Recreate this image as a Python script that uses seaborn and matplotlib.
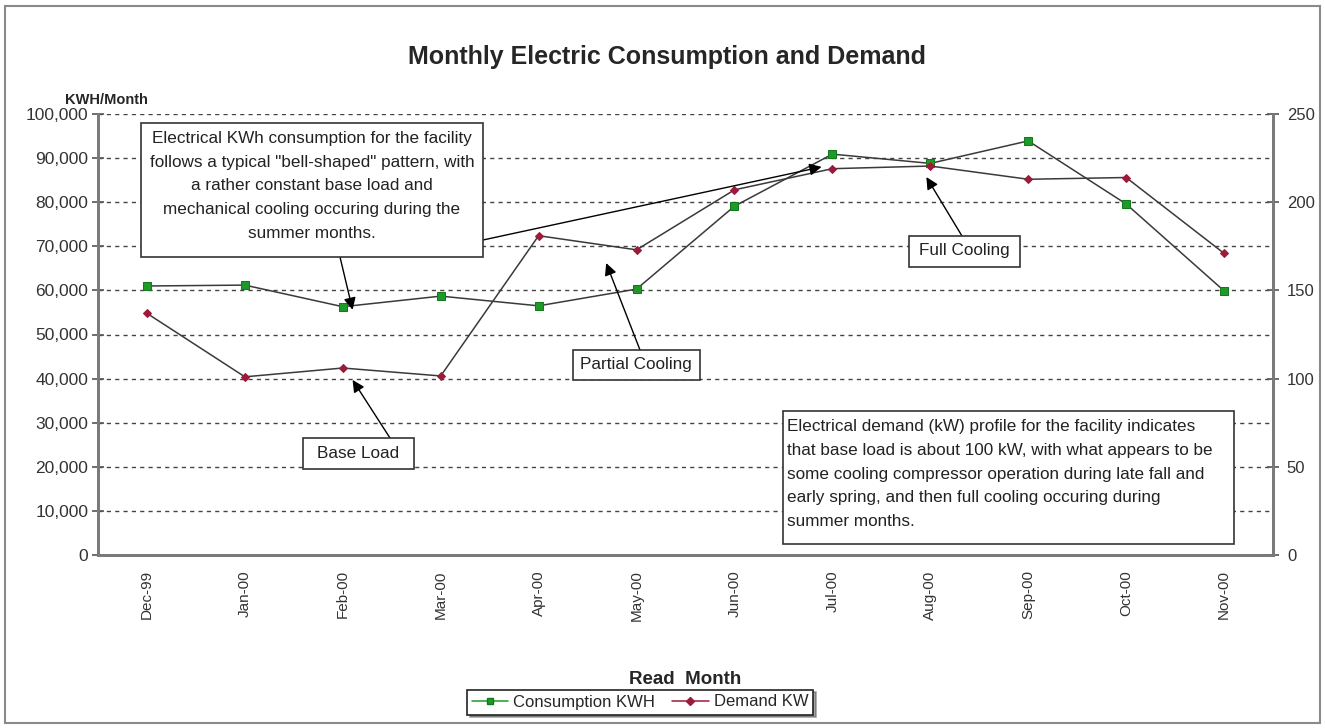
import pandas as pd
import matplotlib
matplotlib.use("Agg")
import matplotlib.pyplot as plt
import seaborn as sns
from matplotlib.patches import Rectangle
from matplotlib.lines import Line2D

# data
months = ['Dec-99', 'Jan-00', 'Feb-00', 'Mar-00', 'Apr-00', 'May-00',
          'Jun-00', 'Jul-00', 'Aug-00', 'Sep-00', 'Oct-00', 'Nov-00']
consumption_kwh = [61000, 61200, 56300, 58700, 56500, 60300,
                   79100, 90900, 88800, 93900, 79600, 59900]
demand_kw = [137, 101, 106, 101.5, 181, 173, 207, 219, 220.5, 213, 214, 171]

kwh_ticks = list(range(0, 100001, 10000))
kw_ticks = [0, 50, 100, 150, 200, 250]

df = pd.DataFrame({'month': months, 'kwh': consumption_kwh, 'kw': demand_kw})

sns.set_style("white")
plt.rcParams['font.family'] = ['Liberation Sans', 'DejaVu Sans']

W, H = 1325, 728
fig = plt.figure(figsize=(W / 100, H / 100), dpi=100)


def px(x, y):
    # screen pixel -> figure fraction
    return (x / W, 1 - y / H)


ax = fig.add_axes([98 / W, 1 - 555 / H, (1273 - 98) / W, (555 - 114) / H])
ax2 = ax.twinx()

green = '#1f9a2a'
red = '#9c1b3a'
line_col = '#3a3a3a'

sns.lineplot(data=df, x='month', y='kwh', ax=ax, color=line_col, lw=1.1,
             marker='s', markersize=6, markerfacecolor=green,
             markeredgecolor='#137a1c', sort=False)
sns.lineplot(data=df, x='month', y='kw', ax=ax2, color=line_col, lw=1.1,
             marker='D', markersize=4.5, markerfacecolor=red,
             markeredgecolor=red, sort=False)

ax.set_xlim(-0.5, len(months) - 0.5)
ax.set_ylim(0, 100000)
ax2.set_ylim(0, 250)
ax.set_yticks(kwh_ticks)
ax.set_yticklabels([f'{v:,}' for v in kwh_ticks], fontsize=12.5, color='#333')
ax2.set_yticks(kw_ticks)
ax2.set_yticklabels([str(v) for v in kw_ticks], fontsize=12, color='#333')
ax.set_xticks(range(len(months)))
ax.set_xticklabels(months, rotation=90, fontsize=11, color='#333')
ax.set_xticks([i - 0.5 for i in range(len(months) + 1)], minor=True)
ax.tick_params(axis='x', which='major', length=0, pad=11)
ax.tick_params(axis='x', which='minor', length=8, direction='inout', color='#555', width=1.2)
ax.tick_params(axis='y', length=8, direction='inout', color='#555', width=1.2, pad=3)
ax2.tick_params(axis='y', length=8, direction='inout', color='#555', width=1.2, pad=6)

ax.set_xlabel('Read  Month', fontsize=13.5, fontweight='bold', labelpad=36)
ax.set_ylabel('')
ax2.set_ylabel('')

for a in (ax, ax2):
    a.spines['top'].set_visible(False)
    for s in ('left', 'right', 'bottom'):
        a.spines[s].set_color('#7a7a7a')
        a.spines[s].set_linewidth(2)

for v in kwh_ticks[1:]:
    ax.axhline(v, color='#444', lw=1, ls=(0, (3, 3)), zorder=0)

fig.text(*px(667, 57), 'Monthly Electric Consumption and Demand',
         ha='center', va='center', fontsize=18, fontweight='bold')
fig.text(*px(106, 100), 'KWH/Month', ha='center', va='center',
         fontsize=10.5, fontweight='bold')

# outer chart border
fig.patches.append(Rectangle(px(5, 723), (1320 - 5) / W, (723 - 6) / H,
                             transform=fig.transFigure, fill=False,
                             edgecolor='#8a8a8a', lw=1.5))


def box(x0, y0, x1, y1):
    fig.patches.append(Rectangle(px(x0, y1), (x1 - x0) / W, (y1 - y0) / H,
                                 transform=fig.transFigure, facecolor='white',
                                 edgecolor='#333', lw=1.2, zorder=5))


def arrow(tip_x, tip_y, tail):
    ax2.annotate('', xy=(tip_x, tip_y), xycoords=ax.transData,
                 xytext=px(*tail), textcoords='figure fraction',
                 arrowprops=dict(arrowstyle='-|>', color='black', lw=1,
                                 mutation_scale=18, shrinkA=0, shrinkB=0),
                 zorder=6)


# text boxes
box(141, 123, 483, 257)
fig.text(*px(312, 186),
         'Electrical KWh consumption for the facility\n'
         'follows a typical "bell-shaped" pattern, with\n'
         'a rather constant base load and\n'
         'mechanical cooling occuring during the\n'
         'summer months.',
         ha='center', va='center', fontsize=12.3, linespacing=1.72,
         color='#222', zorder=7)

box(573, 350, 700, 380)
fig.text(*px(636, 365), 'Partial Cooling', ha='center', va='center',
         fontsize=12.3, color='#222', zorder=7)

box(909, 236, 1020, 267)
fig.text(*px(964, 251), 'Full Cooling', ha='center', va='center',
         fontsize=12.3, color='#222', zorder=7)

box(303, 438, 414, 469)
fig.text(*px(358, 453), 'Base Load', ha='center', va='center',
         fontsize=12.3, color='#222', zorder=7)

box(783, 411, 1234, 544)
fig.text(*px(787, 474),
         'Electrical demand (kW) profile for the facility indicates\n'
         'that base load is about 100 kW, with what appears to be\n'
         'some cooling compressor operation during late fall and\n'
         'early spring, and then full cooling occuring during\n'
         'summer months.',
         ha='left', va='center', fontsize=12.3, linespacing=1.72,
         color='#222', zorder=7)

# arrows: tips in data coordinates (x index, kWh scale)
arrow(2.10, 55600, (340, 257))
arrow(6.89, 88000, (483, 240))
arrow(4.69, 66200, (640, 350))
arrow(7.96, 85700, (962, 236))
arrow(2.10, 39700, (390, 438))

handles = [Line2D([], [], color=green, lw=1.1, marker='s', markersize=5,
                  markerfacecolor=green, markeredgecolor='#137a1c'),
           Line2D([], [], color=red, lw=1.1, marker='D', markersize=4,
                  markerfacecolor=red, markeredgecolor=red)]
leg = fig.legend(handles, ['Consumption KWH', 'Demand KW'], ncol=2,
                 loc='center', bbox_to_anchor=px(640, 702), fontsize=12,
                 frameon=True, fancybox=False, shadow=True, edgecolor='#222',
                 handlelength=2.2, handletextpad=0.3, columnspacing=1.0,
                 borderpad=0.3)
leg.get_frame().set_linewidth(1.2)

fig.savefig('out.png', dpi=100)
